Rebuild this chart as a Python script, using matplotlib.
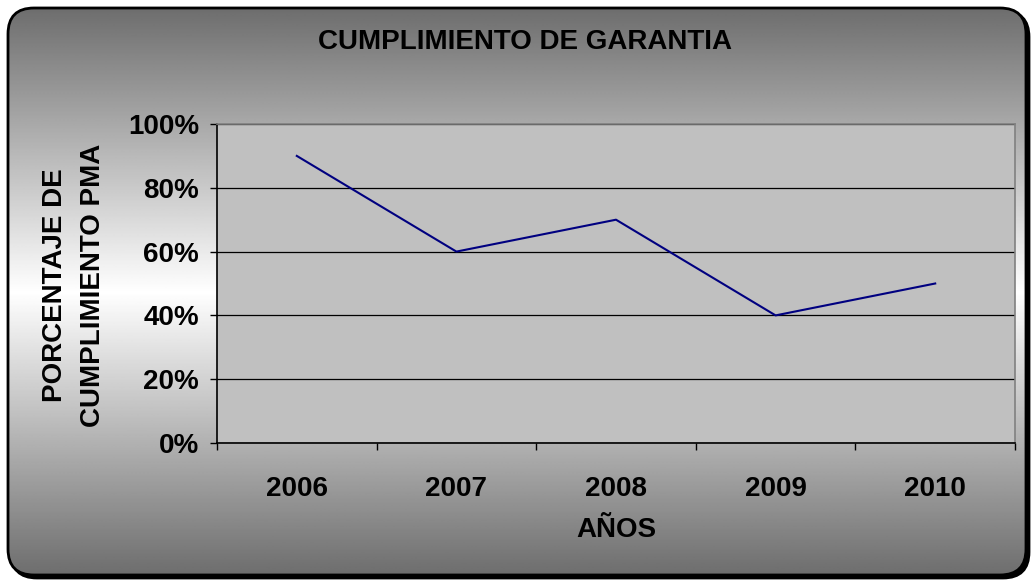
import numpy as np
import matplotlib
matplotlib.use("Agg")
import matplotlib.pyplot as plt
from matplotlib.patches import FancyBboxPatch
from matplotlib.ticker import FixedLocator, PercentFormatter

years = ["2006", "2007", "2008", "2009", "2010"]
values = [90, 60, 70, 40, 50]
yticks = [0, 20, 40, 60, 80, 100]
title = "CUMPLIMIENTO DE GARANTIA"
xlabel = "AÑOS"
ylabel = "PORCENTAJE DE\nCUMPLIMIENTO PMA"

W, H = 1032, 583
plt.rcParams['font.family'] = ['Liberation Sans', 'DejaVu Sans']
plt.rcParams['font.weight'] = 'bold'
FS = 20

fig = plt.figure(figsize=(W / 100, H / 100), dpi=100)
fig.patch.set_facecolor('white')

# background axes in pixel coordinates
bg = fig.add_axes([0, 0, 1, 1])
bg.set_xlim(0, W)
bg.set_ylim(H, 0)
bg.axis('off')

x0, y0, x1, y1 = 8, 8, 1026, 575
r = 26
shadow = FancyBboxPatch((x0 + 3, y0 + 3), x1 - x0, y1 - y0,
                        boxstyle=f"round,pad=0,rounding_size={r}",
                        facecolor='black', edgecolor='black', lw=2, zorder=1)
bg.add_patch(shadow)
box = FancyBboxPatch((x0, y0), x1 - x0, y1 - y0,
                     boxstyle=f"round,pad=0,rounding_size={r}",
                     facecolor='none', edgecolor='black', lw=2, zorder=3)
bg.add_patch(box)
ys = np.linspace(y0, y1, 400)
mid = 292
t = np.where(ys < mid, (mid - ys) / (mid - y0), (ys - mid) / (y1 - mid))
g = 1.0 - 0.57 * t
grad = np.repeat(g[:, None], 2, axis=1)
im = bg.imshow(grad, cmap='gray', vmin=0, vmax=1, extent=(x0, x1, y1, y0),
               aspect='auto', zorder=2, interpolation='bilinear')
clip = FancyBboxPatch((x0, y0), x1 - x0, y1 - y0,
                      boxstyle=f"round,pad=0,rounding_size={r}",
                      facecolor='none', edgecolor='none', transform=bg.transData)
bg.add_patch(clip)
im.set_clip_path(clip)
bg.set_xlim(0, W)
bg.set_ylim(H, 0)

# plot axes
L, R, T, B = 217, 1015, 124, 443
ax = fig.add_axes([L / W, (H - B) / H, (R - L) / W, (B - T) / H])
ax.set_facecolor('#C0C0C0')
xs = np.arange(len(years))
ax.plot(xs, values, color='#000080', lw=1.5, zorder=3)
ax.set_xlim(-0.5, len(years) - 0.5)
ax.set_ylim(0, 100)
ax.set_yticks(yticks)
ax.yaxis.set_major_formatter(PercentFormatter(decimals=0))
ax.grid(axis='y', color='black', lw=0.9)
ax.set_axisbelow(True)
ax.set_xticks(xs)
ax.set_xticklabels(years)
ax.xaxis.set_minor_locator(FixedLocator(np.arange(-0.5, len(years), 1.0)))
ax.tick_params(axis='x', which='major', length=0, pad=24, labelsize=FS)
ax.tick_params(axis='x', which='minor', length=5, width=1, color='black', direction='out')
ax.tick_params(axis='y', length=5, width=1, color='black', direction='out', pad=8, labelsize=FS)
for lab in ax.get_xticklabels() + ax.get_yticklabels():
    lab.set_fontweight('bold')
ax.spines['left'].set_color('black')
ax.spines['bottom'].set_color('black')
ax.spines['top'].set_color('#808080')
ax.spines['right'].set_color('#808080')
for s in ax.spines.values():
    s.set_linewidth(1.2)

fig.text(525 / W, 1 - 42 / H, title, ha='center', va='center', fontsize=FS, fontweight='bold')
fig.text(616 / W, 1 - 530 / H, xlabel, ha='center', va='center', fontsize=FS, fontweight='bold')
fig.text(74 / W, 1 - 285 / H, ylabel, ha='center', va='center', rotation=90,
         multialignment='center', fontsize=FS, fontweight='bold', linespacing=1.55)

fig.savefig('out.png', dpi=100)
